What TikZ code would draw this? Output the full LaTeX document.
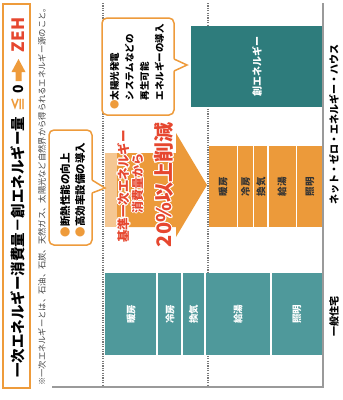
\documentclass[tikz,border=0pt]{standalone}
\usepackage{fontspec}
\newfontfamily\jp{Noto Sans CJK JP}
\usepackage{contour}
\contourlength{1pt}
\definecolor{tor}{HTML}{EE9B3B}
\definecolor{bor}{HTML}{EC9A3A}
\definecolor{lor}{HTML}{F5C792}
\definecolor{tealL}{HTML}{4F999B}
\definecolor{tealD}{HTML}{2E7C7C}
\definecolor{tred}{HTML}{E6472F}
\definecolor{axg}{HTML}{9A9A9A}
\definecolor{dotg}{HTML}{7A7A7A}
\begin{document}
\begin{tikzpicture}[x=1pt,y=-1pt,
  vt/.style={rotate=90, inner sep=0pt},
  segw/.style={vt, text=white, font=\jp\bfseries\fontsize{9.5}{10}\selectfont},
  segd/.style={vt, text=black!80, font=\jp\bfseries\fontsize{9.5}{10}\selectfont},
  dotl/.style={dotg, line width=1.2pt, dash pattern=on 1.2pt off 1.2pt},
  axisl/.style={axg, line width=1.5pt},
  bub/.style={tor, line width=1.5pt, fill=white, rounded corners=5pt},
  sepl/.style={white, line width=1.5pt}
]
\useasboundingbox (0,0) rectangle (343,400);
\fill[white] (0,0) rectangle (343,400);

% dotted guide lines
\coordinate (d1a) at (103,3); \coordinate (d1b) at (103,385);
\coordinate (d2a) at (208,3); \coordinate (d2b) at (208,385);
\draw[dotl] (d1a) -- (d1b);
\draw[dotl] (d2a) -- (d2b);

% title
\draw[tor, line width=1.8pt] (3,4) rectangle (30,388);
\node[vt, anchor=west, font=\jp\bfseries\fontsize{14.5}{15}\selectfont] (t1) at (18,378) {一次エネルギー消費量－創エネルギー量};
\node[vt, text=tor, font=\jp\bfseries\fontsize{14}{14}\selectfont] (t2) at (18,104) {≦};
\node[vt, font=\jp\bfseries\fontsize{14}{14}\selectfont] (t3) at (18,89) {0};
\fill[tor] (15.5,81) -- (15.5,72) -- (11.5,72) -- (18.5,59) -- (25.5,72) -- (21.5,72) -- (21.5,81) -- cycle;
\node[vt, text=tred, font=\jp\bfseries\fontsize{17}{17}\selectfont] (t5) at (18,35) {ZEH};

% footnote
\node[vt, anchor=west, text=black!75, font=\jp\fontsize{8.3}{9}\selectfont] (fn) at (42,386) {※一次エネルギーとは、石油、石炭、天然ガス、太陽光など自然界から得られるエネルギー源のこと。};

% general house bar
\fill[tealL] (105,273) rectangle (323,355);
\draw[sepl] (157,273) -- (157,355);
\draw[sepl] (182,273) -- (182,355);
\draw[sepl] (205,273) -- (205,355);
\draw[sepl] (271,273) -- (271,355);
\node[segw] (g1) at (131,314) {暖房};
\node[segw] (g2) at (170,314) {冷房};
\node[segw] (g3) at (193.5,314) {換気};
\node[segw] (g4) at (238,314) {給湯};
\node[segw] (g5) at (297,314) {照明};

% ZEH bar
\fill[bor] (209,146) rectangle (323,227);
\draw[sepl] (237.5,146) -- (237.5,227);
\draw[sepl] (253.5,146) -- (253.5,227);
\draw[sepl] (268,146) -- (268,227);
\draw[sepl] (296.5,146) -- (296.5,227);
\node[segd] (z1) at (223,186.5) {暖房};
\node[segd] (z2) at (245.5,186.5) {冷房};
\node[segd] (z3) at (261,186.5) {換気};
\node[segd] (z4) at (282,186.5) {給湯};
\node[segd] (z5) at (310,186.5) {照明};

% creation energy
\fill[tealD] (191,26) rectangle (323,107);
\node[segw, font=\jp\bfseries\fontsize{10}{10}\selectfont] (ce) at (257,66) {創エネルギー};

% axes
\coordinate (ax1) at (323,3); \coordinate (ax2) at (323,387); \coordinate (ax3) at (52,387);
\draw[axisl] (ax1) -- (ax2) -- (ax3);

% labels
\node[vt, font=\jp\bfseries\fontsize{10}{10}\selectfont] (l1) at (334,316) {一般住宅};
\node[vt, font=\jp\bfseries\fontsize{10}{10}\selectfont] (l2) at (334,124) {ネット・ゼロ・エネルギー・ハウス};

% big arrow
\fill[lor] (105,153) rectangle (117,227);
\fill[bor] (117,153) -- (176,153) -- (176,133) -- (207,185) -- (176,237) -- (176,227) -- (117,227) -- cycle;
\node[vt, text=tred, font=\jp\bfseries\fontsize{12.5}{13}\selectfont] (a1) at (124,186.5) {\contour{white}{基準一次エネルギー}};
\node[vt, text=tred, font=\jp\bfseries\fontsize{12}{12}\selectfont] (a2) at (138,183) {\contour{white}{消費量から}};
\node[vt, text=tred, font=\jp\bfseries\fontsize{20}{20}\selectfont] (a3) at (164,185) {\contour{white}{20\%以上削減}};

% bubble 1
\draw[bub] (49,130) rectangle (92,245);
\fill[white] (90.5,179.5) -- (105,188) -- (90.5,193.5) -- cycle;
\draw[tor, line width=1.5pt, line join=miter] (92,180) -- (105,188) -- (92,193);
\node[vt, align=left, font=\jp\bfseries\fontsize{10.5}{15}\selectfont] (b1) at (72.5,190) {\textcolor{tor}{●}断熱性能の向上\\\textcolor{tor}{●}高効率設備の導入};

% bubble 2
\draw[bub] (102,18) rectangle (174,115);
\fill[white] (172.5,58.5) -- (187,65) -- (172.5,71.5) -- cycle;
\draw[tor, line width=1.5pt, line join=miter] (174,59) -- (187,65) -- (174,71);
\node[vt, align=left, font=\jp\bfseries\fontsize{9.5}{15}\selectfont] (b2) at (137,67) {\textcolor{tor}{●}太陽光発電\\\phantom{●}システムなどの\\\phantom{●}再生可能\\\phantom{●}エネルギーの導入};
\end{tikzpicture}
\end{document}
